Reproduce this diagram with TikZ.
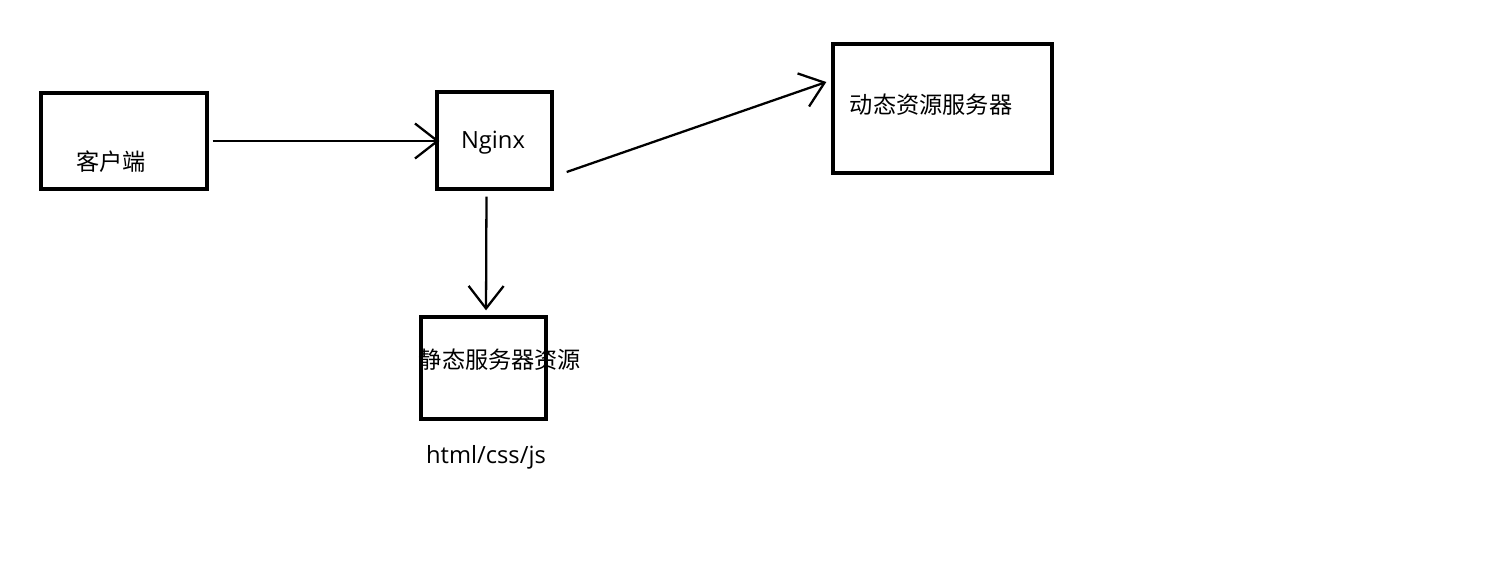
\documentclass[tikz,border=0pt]{standalone}
\usepackage{fontspec}
\setmainfont{Open Sans}
\newfontfamily\cjk{Noto Sans CJK SC}
\usetikzlibrary{arrows.meta}

\begin{document}
\begin{tikzpicture}[-{Straight Barb[length=0.45cm,width=0.7cm]}, line width=1.3pt,
                    box/.style={rectangle,draw,line width=1.9pt,inner sep=0pt},
                    txt/.style={font=\cjk\fontsize{13.2}{15}\selectfont,inner sep=0pt},
                    latin/.style={font=\fontsize{13.5}{15}\selectfont,inner sep=0pt}]

  \useasboundingbox (0,0) rectangle (30.22,-11.34);

  % Kaesten
  \node[box, minimum width=3.32cm, minimum height=1.92cm] (client)  at (2.48,-2.82) {};
  \node[box, minimum width=2.30cm, minimum height=1.94cm] (nginx)   at (9.89,-2.81) {};
  \node[box, minimum width=4.38cm, minimum height=2.58cm] (dynamic) at (18.85,-2.17) {};
  \node[box, minimum width=2.50cm, minimum height=2.04cm] (static)  at (9.67,-7.36) {};

  % Beschriftungen
  \node[txt] (clienttxt)  at (2.22,-3.24) {客户端};
  \node[latin] (nginxtxt) at (9.86,-2.86) {Nginx};
  \node[txt] (dynamictxt) at (18.62,-2.10) {动态资源服务器};
  \node[txt] (statictxt)  at (10.0,-7.2) {静态服务器资源};
  \node[latin] (files) at (9.72,-9.14) {html/css/js};

  \draw[shorten <=0.08cm, shorten >=-0.08cm] (client.east) -- (client.east -| nginx.west);
  \draw[shorten <=0.12cm, shorten >=0.1cm]
    ([xshift=-0.16cm]nginx.south) -- ([xshift=0.05cm]static.north);
  \draw ([xshift=0.26cm,yshift=-0.63cm]nginx.east) -- ([xshift=-0.1cm,yshift=0.53cm]dynamic.west);

\end{tikzpicture}
\end{document}
